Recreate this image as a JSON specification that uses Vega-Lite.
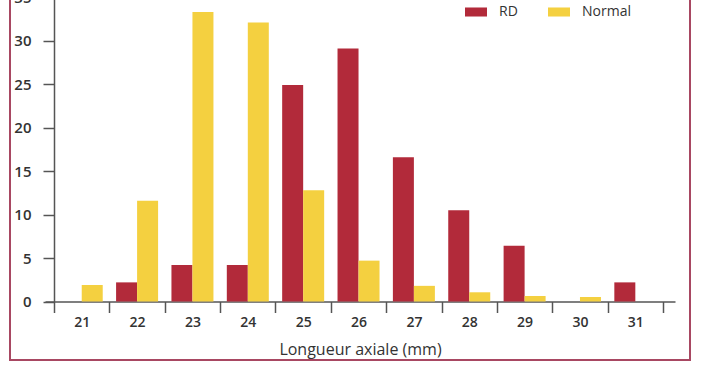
{
  "$schema": "https://vega.github.io/schema/vega-lite/v6.json",
  "width": 680,
  "height": 365,
  "autosize": {"type": "none"},
  "padding": {"left": 10, "top": -5, "right": 12, "bottom": 10},
  "background": "white",
  "config": {
    "view": {"stroke": "#a84862", "strokeWidth": 2},
    "font": "Open Sans",
    "axis": {
      "domainColor": "#555555",
      "tickColor": "#555555",
      "domainWidth": 1.5,
      "tickWidth": 1.5,
      "grid": false,
      "labelColor": "#333333",
      "labelFont": "Open Sans",
      "labelFontSize": 14,
      "labelFontWeight": 600,
      "titleFont": "Open Sans",
      "titleColor": "#333333",
      "titleFontWeight": "normal",
      "titleFontSize": 16
    }
  },
  "data": {
    "values": [
      {"longueur": "21", "groupe": "RD", "pct": 0},
      {"longueur": "21", "groupe": "Normal", "pct": 1.9},
      {"longueur": "22", "groupe": "RD", "pct": 2.2},
      {"longueur": "22", "groupe": "Normal", "pct": 11.6},
      {"longueur": "23", "groupe": "RD", "pct": 4.2},
      {"longueur": "23", "groupe": "Normal", "pct": 33.3},
      {"longueur": "24", "groupe": "RD", "pct": 4.2},
      {"longueur": "24", "groupe": "Normal", "pct": 32.1},
      {"longueur": "25", "groupe": "RD", "pct": 24.9},
      {"longueur": "25", "groupe": "Normal", "pct": 12.8},
      {"longueur": "26", "groupe": "RD", "pct": 29.1},
      {"longueur": "26", "groupe": "Normal", "pct": 4.7},
      {"longueur": "27", "groupe": "RD", "pct": 16.6},
      {"longueur": "27", "groupe": "Normal", "pct": 1.8},
      {"longueur": "28", "groupe": "RD", "pct": 10.5},
      {"longueur": "28", "groupe": "Normal", "pct": 1.06},
      {"longueur": "29", "groupe": "RD", "pct": 6.4},
      {"longueur": "29", "groupe": "Normal", "pct": 0.63},
      {"longueur": "30", "groupe": "RD", "pct": 0},
      {"longueur": "30", "groupe": "Normal", "pct": 0.52},
      {"longueur": "31", "groupe": "RD", "pct": 2.2},
      {"longueur": "31", "groupe": "Normal", "pct": 0}
    ]
  },
  "mark": {"type": "bar"},
  "encoding": {
    "x": {
      "field": "longueur",
      "type": "ordinal",
      "scale": {"range": [35, 665], "paddingInner": 0, "paddingOuter": 0.19, "align": 0.43},
      "axis": {
        "title": "Longueur axiale (mm)",
        "labelAngle": 0,
        "tickBand": "extent",
        "tickSize": 11,
        "labelPadding": 3,
        "titlePadding": 12,
        "offset": -58.5
      }
    },
    "xOffset": {
      "field": "groupe",
      "type": "nominal",
      "scale": {"domain": ["RD", "Normal"], "paddingInner": 0, "paddingOuter": 0.318}
    },
    "y": {
      "field": "pct",
      "type": "quantitative",
      "scale": {"domain": [0, 35], "range": [306.5, 2.2], "nice": false, "zero": true},
      "axis": {
        "title": null,
        "values": [0, 5, 10, 15, 20, 25, 30, 35],
        "tickSize": 11,
        "labelPadding": 12,
        "labelFontSize": 15,
        "offset": -44
      }
    },
    "color": {
      "field": "groupe",
      "type": "nominal",
      "scale": {"domain": ["RD", "Normal"], "range": ["#b22a3a", "#f4d040"]},
      "legend": {
        "title": null,
        "orient": "none",
        "direction": "horizontal",
        "legendX": 455,
        "legendY": 6,
        "padding": 0,
        "symbolType": "M-1,-0.41H1V0.41H-1Z",
        "symbolSize": 484,
        "symbolStrokeWidth": 0,
        "symbolOpacity": 1,
        "labelOffset": 12,
        "labelFontSize": 14,
        "labelColor": "#333333",
        "labelFont": "Open Sans",
        "columnPadding": 30
      }
    }
  }
}
